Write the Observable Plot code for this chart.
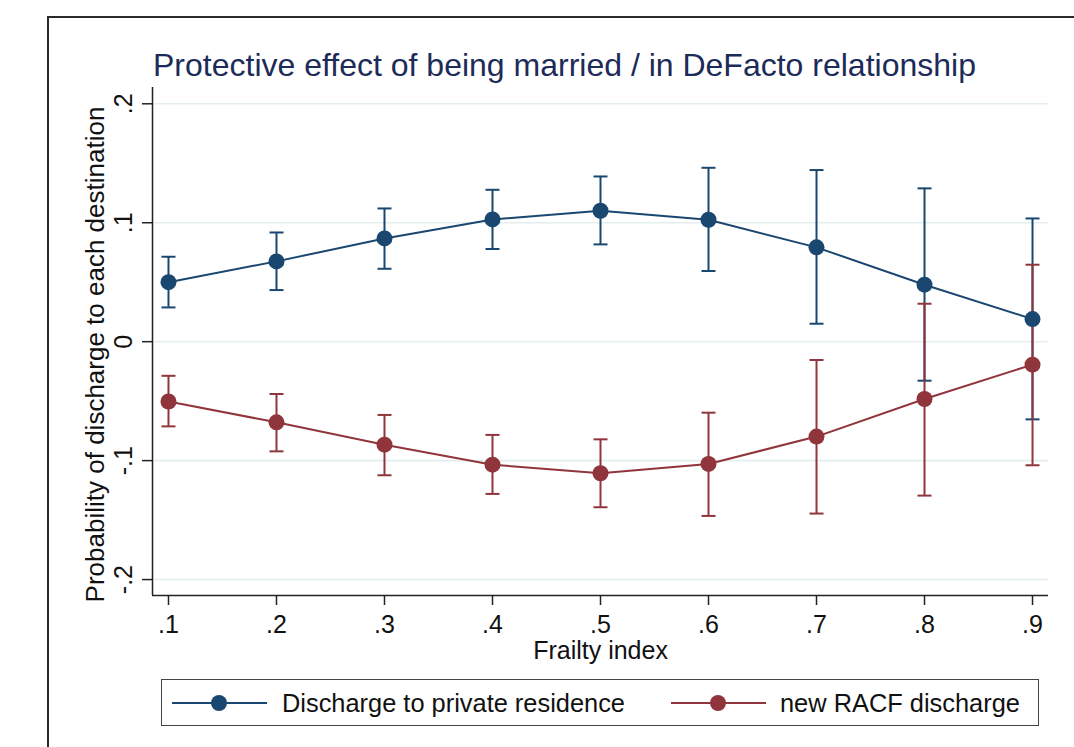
<!DOCTYPE html>
<html>
<head>
<meta charset="utf-8">
<script src="https://cdn.jsdelivr.net/npm/d3@7"></script>
<script src="https://cdn.jsdelivr.net/npm/@observablehq/plot@0.6"></script>
<style>
  html, body { margin: 0; padding: 0; background: #fff; overflow: hidden; }
  #wrap { position: relative; width: 1074px; height: 747px; overflow: hidden; background: #fff;
          font-family: "Liberation Sans", Arial, Helvetica, sans-serif; }
  #frame { position: absolute; left: 47px; top: 16px; width: 1100px; height: 800px;
           border: 2px solid #2a2a2a; box-sizing: border-box; }
  #title { position: absolute; left: 153px; top: 49px; font-size: 32px; line-height: 32px;
           color: #1c2b58; white-space: nowrap; }
  #chart { position: absolute; left: 0; top: 0; }
  #legend { position: absolute; left: 161px; top: 679px; width: 878px; height: 47px;
            border: 1.3px solid #444; box-sizing: border-box; background: #fff; }
  .lg-text { position: absolute; font-size: 25.4px; line-height: 25px; color: #111; white-space: nowrap; }
  .lg-key { position: absolute; }
</style>
</head>
<body>
<div id="wrap">
  <div id="frame"></div>
  <div id="chart"></div>
  <div id="title">Protective effect of being married / in DeFacto relationship</div>
  <div id="legend"></div>
</div>
<script>
// ---- data ----
const frailty = [0.1, 0.2, 0.3, 0.4, 0.5, 0.6, 0.7, 0.8, 0.9];

const homeEst = [0.0500, 0.0675, 0.0868, 0.1028, 0.1101, 0.1025, 0.0793, 0.0479, 0.0190];
const homeLo  = [0.0288, 0.0434, 0.0613, 0.0779, 0.0818, 0.0594, 0.0151, -0.0328, -0.0653];
const homeHi  = [0.0714, 0.0918, 0.1120, 0.1277, 0.1389, 0.1462, 0.1443, 0.1289, 0.1036];

const racfEst = [-0.0503, -0.0678, -0.0866, -0.1034, -0.1106, -0.1028, -0.0798, -0.0482, -0.0193];
const racfLo  = [-0.0712, -0.0922, -0.1123, -0.1280, -0.1392, -0.1465, -0.1445, -0.1294, -0.1039];
const racfHi  = [-0.0287, -0.0440, -0.0616, -0.0784, -0.0821, -0.0597, -0.0154, 0.0319, 0.0647];

const seriesNames = ["Discharge to private residence", "new RACF discharge"];
const seriesColors = ["#1a476f", "#90353b"];

const xTicks = [0.1, 0.2, 0.3, 0.4, 0.5, 0.6, 0.7, 0.8, 0.9];
const xTickLabels = [".1", ".2", ".3", ".4", ".5", ".6", ".7", ".8", ".9"];
const yTicks = [-0.2, -0.1, 0, 0.1, 0.2];
const yTickLabels = ["-.2", "-.1", "0", ".1", ".2"];

const xDomain = [0.0852, 0.9148];
const yDomain = [-0.2134, 0.2137];

const xLabel = "Frailty index";
const yLabel = "Probability of discharge to each destination";

// ---- build tables ----
const home = frailty.map((x, i) => ({x, est: homeEst[i], lo: homeLo[i], hi: homeHi[i]}));
const racf = frailty.map((x, i) => ({x, est: racfEst[i], lo: racfLo[i], hi: racfHi[i]}));
const xTickData = xTicks.map((v, i) => ({v, label: xTickLabels[i]}));
const yTickData = yTicks.map((v, i) => ({v, label: yTickLabels[i]}));

const capSymbol = {
  draw(context, size) {
    const r = Math.sqrt(size / Math.PI);
    context.moveTo(-r, 0);
    context.lineTo(r, 0);
  }
};

const FONT = "Liberation Sans, Arial, Helvetica, sans-serif";
const AX = "#222";

function ciMarks(data, color) {
  return [
    Plot.ruleX(data, {x: "x", y1: "lo", y2: "hi", stroke: color, strokeWidth: 2}),
    Plot.dot(data, {x: "x", y: "hi", symbol: capSymbol, r: 7, stroke: color, strokeWidth: 2, fill: "none"}),
    Plot.dot(data, {x: "x", y: "lo", symbol: capSymbol, r: 7, stroke: color, strokeWidth: 2, fill: "none"})
  ];
}
function estMarks(data, color) {
  return [
    Plot.line(data, {x: "x", y: "est", stroke: color, strokeWidth: 2}),
    Plot.dot(data, {x: "x", y: "est", r: 8, fill: color, stroke: "none"})
  ];
}

const chart = Plot.plot({
  width: 1074,
  height: 672,
  marginLeft: 152,
  marginRight: 26,
  marginTop: 87,
  marginBottom: 77,
  style: {fontFamily: FONT, background: "transparent", overflow: "visible", color: "#111"},
  x: {domain: xDomain, axis: null},
  y: {domain: yDomain, axis: null},
  marks: [
    Plot.gridY(yTicks, {stroke: "#e4edef", strokeOpacity: 1, strokeWidth: 1.6}),
    // axis lines
    Plot.ruleY([yDomain[0]], {stroke: AX, strokeWidth: 1.5}),
    Plot.ruleX([xDomain[0]], {stroke: AX, strokeWidth: 1.5}),
    // ticks
    Plot.axisY({ticks: yTicks, tickSize: 10, tickFormat: () => "", stroke: AX, strokeWidth: 1.5, label: null}),
    Plot.axisX({ticks: xTicks, tickSize: 10, tickFormat: () => "", stroke: AX, strokeWidth: 1.5, label: null}),
    // tick labels
    Plot.text(xTickData, {x: "v", text: "label", frameAnchor: "bottom", dy: 37, lineAnchor: "bottom",
      textAnchor: "middle", fontSize: 25, fill: "#111"}),
    Plot.text(yTickData, {y: "v", text: "label", frameAnchor: "left", dx: -21, rotate: -90,
      lineAnchor: "bottom", textAnchor: "middle", fontSize: 25, fill: "#111"}),
    // axis titles
    Plot.text([xLabel], {text: d => d, frameAnchor: "bottom", dy: 63, lineAnchor: "bottom",
      textAnchor: "middle", fontSize: 25, fill: "#111"}),
    Plot.text([yLabel], {text: d => d, frameAnchor: "left", dx: -49, dy: 13, rotate: -90,
      lineAnchor: "bottom", textAnchor: "middle", fontSize: 26, fill: "#111"}),
    // data
    ...ciMarks(home, seriesColors[0]),
    ...ciMarks(racf, seriesColors[1]),
    ...estMarks(home, seriesColors[0]),
    ...estMarks(racf, seriesColors[1])
  ]
});
document.getElementById("chart").appendChild(chart);

// ---- legend ----
const legend = d3.select("#legend");
const items = [
  {name: seriesNames[0], color: seriesColors[0], keyLeft: 10, textLeft: 120},
  {name: seriesNames[1], color: seriesColors[1], keyLeft: 509, textLeft: 618}
];
items.forEach(it => {
  const svg = legend.append("svg").attr("class", "lg-key")
    .attr("width", 96).attr("height", 20)
    .style("left", it.keyLeft + "px").style("top", "13px");
  svg.append("line").attr("x1", 0).attr("x2", 95).attr("y1", 10).attr("y2", 10)
    .attr("stroke", it.color).attr("stroke-width", 2);
  svg.append("circle").attr("cx", 47).attr("cy", 10).attr("r", 8).attr("fill", it.color);
  legend.append("div").attr("class", "lg-text")
    .style("left", it.textLeft + "px").style("top", "11px").text(it.name);
});
</script>
</body>
</html>
